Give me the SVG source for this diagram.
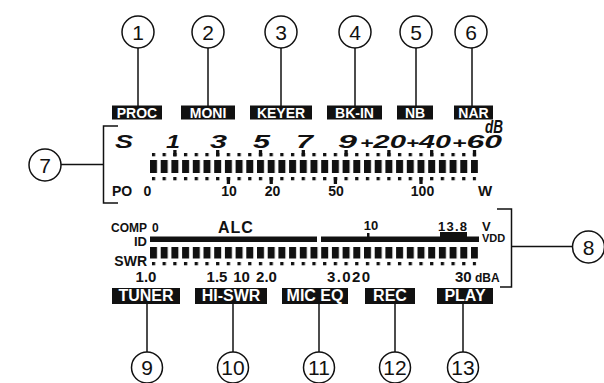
<svg xmlns="http://www.w3.org/2000/svg" width="604" height="383" viewBox="0 0 604 383">
<style>
.c{fill:#fff;stroke:#111;stroke-width:1.5}
.n{font-family:"Liberation Sans",Arial,sans-serif;font-size:21px;fill:#111;text-anchor:middle}
.b{fill:#111}
.bt{font-family:"Liberation Sans",Arial,sans-serif;font-weight:bold;fill:#fff;text-anchor:middle}
.l{stroke:#111;stroke-width:1.5;fill:none}
.t{font-family:"Liberation Sans",Arial,sans-serif;font-weight:bold;fill:#111}
.s{font-family:"Liberation Sans",Arial,sans-serif;font-weight:bold;font-style:italic;fill:#111;font-size:18px}
</style>
<defs>
<pattern id="seg" patternUnits="userSpaceOnUse" x="150" y="0" width="10.7" height="400"><rect x="0" y="0" width="7" height="400" fill="#111"/></pattern>
<pattern id="dot" patternUnits="userSpaceOnUse" x="151.85" y="0" width="10.7" height="400"><rect x="0" y="0" width="3.3" height="400" fill="#111"/></pattern>
</defs>
<rect width="604" height="383" fill="#fff"/>
<g id="connectors">
<line class="l" x1="138" y1="48" x2="138" y2="106"/>
<line class="l" x1="208" y1="48" x2="208" y2="106"/>
<line class="l" x1="281" y1="48" x2="281" y2="106"/>
<line class="l" x1="355" y1="48" x2="355" y2="106"/>
<line class="l" x1="416" y1="48" x2="416" y2="106"/>
<line class="l" x1="472" y1="48" x2="472" y2="106"/>
<line class="l" x1="61" y1="164.5" x2="103" y2="164.5"/>
<polyline class="l" points="118,126 103.5,126 103.5,203 118,203"/>
<polyline class="l" points="497,209 511.5,209 511.5,287 500,287"/>
<line class="l" x1="511.5" y1="246.5" x2="573" y2="246.5"/>
<line class="l" x1="147" y1="304" x2="147" y2="352"/>
<line class="l" x1="233" y1="304" x2="233" y2="352"/>
<line class="l" x1="319" y1="304" x2="319" y2="352"/>
<line class="l" x1="395" y1="304" x2="395" y2="352"/>
<line class="l" x1="463" y1="304" x2="463" y2="352"/>
</g>
<g id="n1"><circle class="c" cx="138" cy="32" r="16"/><text class="n" x="138" y="39.5">1</text></g>
<g id="n2"><circle class="c" cx="208" cy="32" r="16"/><text class="n" x="208" y="39.5">2</text></g>
<g id="n3"><circle class="c" cx="281" cy="32" r="16"/><text class="n" x="281" y="39.5">3</text></g>
<g id="n4"><circle class="c" cx="355" cy="32" r="16"/><text class="n" x="355" y="39.5">4</text></g>
<g id="n5"><circle class="c" cx="416" cy="32" r="16"/><text class="n" x="416" y="39.5">5</text></g>
<g id="n6"><circle class="c" cx="471" cy="32" r="16"/><text class="n" x="471" y="39.5">6</text></g>
<g id="n7"><circle class="c" cx="45" cy="165" r="16"/><text class="n" x="45" y="172.5">7</text></g>
<g id="n8"><circle class="c" cx="588.5" cy="247" r="16"/><text class="n" x="588.5" y="254.5">8</text></g>
<g id="n9"><circle class="c" cx="147" cy="367.5" r="15.5"/><text class="n" x="147" y="375">9</text></g>
<g id="n10"><circle class="c" cx="233" cy="367.5" r="15.5"/><text class="n" x="233" y="375" font-size="20">10</text></g>
<g id="n11"><circle class="c" cx="319" cy="367.5" r="15.5"/><text class="n" x="319" y="375" font-size="20">11</text></g>
<g id="n12"><circle class="c" cx="395" cy="367.5" r="15.5"/><text class="n" x="395" y="375" font-size="20">12</text></g>
<g id="n13"><circle class="c" cx="463" cy="367.5" r="15.5"/><text class="n" x="463" y="375" font-size="20">13</text></g>
<g id="proc"><rect class="b" x="112" y="105.5" width="50" height="14"/><text class="bt" x="137" y="118" font-size="14">PROC</text></g>
<g id="moni"><rect class="b" x="181" y="105.5" width="54" height="14"/><text class="bt" x="208" y="118" font-size="14">MONI</text></g>
<g id="keyer"><rect class="b" x="250" y="105.5" width="62" height="14"/><text class="bt" x="281" y="118" font-size="14">KEYER</text></g>
<g id="bkin"><rect class="b" x="327" y="105.5" width="55" height="14"/><text class="bt" x="354.5" y="118" font-size="14">BK-IN</text></g>
<g id="nb"><rect class="b" x="397" y="105.5" width="36" height="14"/><text class="bt" x="415" y="118" font-size="14">NB</text></g>
<g id="nar"><rect class="b" x="454" y="105.5" width="39" height="14"/><text class="bt" x="473.5" y="118" font-size="14">NAR</text></g>
<g id="smeter">
<text class="s" x="115" y="148" textLength="18" lengthAdjust="spacingAndGlyphs">S</text>
<text class="s" x="166" y="148" textLength="14" lengthAdjust="spacingAndGlyphs">1</text>
<text class="s" x="210" y="148" textLength="17" lengthAdjust="spacingAndGlyphs">3</text>
<text class="s" x="253" y="148" textLength="17" lengthAdjust="spacingAndGlyphs">5</text>
<text class="s" x="296" y="148" textLength="17" lengthAdjust="spacingAndGlyphs">7</text>
<text class="s" x="338" y="148" textLength="19" lengthAdjust="spacingAndGlyphs">9</text>
<text class="s" x="360" y="148" textLength="46" lengthAdjust="spacingAndGlyphs"><tspan font-size="14">+</tspan>20</text>
<text class="s" x="406" y="148" textLength="45" lengthAdjust="spacingAndGlyphs"><tspan font-size="14">+</tspan>40</text>
<text class="s" x="452" y="148" textLength="50" lengthAdjust="spacingAndGlyphs"><tspan font-size="14">+</tspan>60</text>
<text class="s" x="485" y="133" font-size="10" textLength="18" lengthAdjust="spacingAndGlyphs">dB</text>
<rect x="151.85" y="153" width="324.4" height="3.3" fill="url(#dot)"/>
<g class="b">
<rect x="173.25" y="150" width="3.3" height="6.3"/>
<rect x="216.05" y="150" width="3.3" height="6.3"/>
<rect x="258.85" y="150" width="3.3" height="6.3"/>
<rect x="301.65" y="150" width="3.3" height="6.3"/>
<rect x="344.45" y="150" width="3.3" height="6.3"/>
<rect x="387.25" y="150" width="3.3" height="6.3"/>
<rect x="430.05" y="150" width="3.3" height="6.3"/>
<rect x="472.85" y="150" width="3.3" height="6.3"/>
<rect x="226.75" y="177" width="3.3" height="7"/>
<rect x="269.55" y="177" width="3.3" height="7"/>
<rect x="333.75" y="177" width="3.3" height="7"/>
<rect x="419.35" y="177" width="3.3" height="7"/>
</g>
<rect x="150" y="160" width="328" height="13" fill="url(#seg)"/>
<rect x="151.85" y="177" width="324.4" height="3.3" fill="url(#dot)"/>
<text class="t" x="112" y="196" font-size="14">PO</text>
<text class="t" x="147.5" y="196" font-size="14" text-anchor="middle">0</text>
<text class="t" x="229" y="196" font-size="14" text-anchor="middle">10</text>
<text class="t" x="272.5" y="196" font-size="14" text-anchor="middle">20</text>
<text class="t" x="336" y="196" font-size="14" text-anchor="middle">50</text>
<text class="t" x="422.5" y="196" font-size="14" text-anchor="middle">100</text>
<text class="t" x="478" y="196" font-size="15">W</text>
</g>
<g id="lowermeter">
<text class="t" x="147" y="232" font-size="12" text-anchor="end">COMP</text>
<text class="t" x="152" y="232" font-size="12">0</text>
<text class="t" x="218" y="233" font-size="16" letter-spacing="1">ALC</text>
<text class="t" x="371" y="230" font-size="13" text-anchor="middle">10</text>
<text class="t" x="438" y="231" font-size="13" textLength="29">13.8</text>
<text class="t" x="482" y="230.5" font-size="13">V</text>
<text class="t" x="482" y="242" font-size="11">VDD</text>
<text class="t" x="147" y="246" font-size="13" text-anchor="end">ID</text>
<text class="t" x="147" y="265.5" font-size="14" text-anchor="end">SWR</text>
<g class="b">
<rect x="150" y="236.5" width="167" height="5.5"/>
<rect x="321" y="236.5" width="158" height="5.5"/>
<rect x="440" y="232" width="27" height="5"/>
<rect x="367" y="233" width="2.5" height="4"/>
</g>
<rect x="150" y="247" width="328" height="11.5" fill="url(#seg)"/>
<rect x="151.85" y="262" width="324.4" height="3.3" fill="url(#dot)"/>
<text class="t" x="146" y="282" font-size="15" text-anchor="middle">1.0</text>
<text class="t" x="217" y="282" font-size="15" text-anchor="middle">1.5</text>
<text class="t" x="241.5" y="282" font-size="15" text-anchor="middle">10</text>
<text class="t" x="266.5" y="282" font-size="15" text-anchor="middle">2.0</text>
<text class="t" x="327" y="282" font-size="15" textLength="43">3.020</text>
<text class="t" x="455" y="282" font-size="15">30</text>
<text class="t" x="475" y="282" font-size="12">dBA</text>
</g>
<g id="tuner"><rect class="b" x="112" y="288" width="68" height="16"/><text class="bt" x="146" y="301" font-size="16">TUNER</text></g>
<g id="hiswr"><rect class="b" x="195" y="288" width="72" height="16"/><text class="bt" x="231" y="301" font-size="16">HI-SWR</text></g>
<g id="miceq"><rect class="b" x="282" y="288" width="66" height="16"/><text class="bt" x="315" y="301" font-size="16">MIC EQ</text></g>
<g id="rec"><rect class="b" x="365" y="288" width="50" height="16"/><text class="bt" x="390" y="301" font-size="16">REC</text></g>
<g id="play"><rect class="b" x="437" y="288" width="56" height="16"/><text class="bt" x="465" y="301" font-size="16">PLAY</text></g>
</svg>
